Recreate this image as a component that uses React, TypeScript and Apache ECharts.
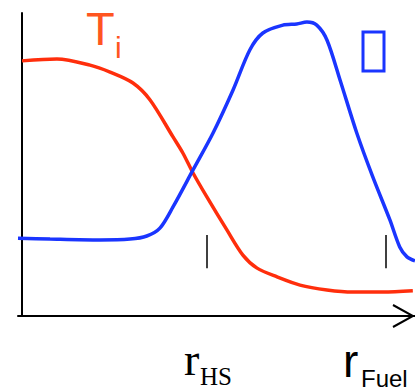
import React, { useEffect, useRef } from "react";
import * as echarts from "echarts";

// radius (r_Fuel = 1) and values (arbitrary units, 0..100)
const tiR = [0, 0.096, 0.187, 0.242, 0.305, 0.352, 0.415, 0.442, 0.47, 0.508, 0.563, 0.607, 0.646, 0.701, 0.764, 0.838, 0.909, 0.992, 1.074];
const tiV = [84.2, 84.8, 82.8, 80.5, 76.9, 71.3, 59.1, 53.8, 47.2, 39.3, 28.4, 20.1, 15.8, 12.9, 10.2, 8.6, 7.9, 7.9, 8.3];
const rhoR = [-0.011, 0.077, 0.214, 0.297, 0.343, 0.379, 0.415, 0.47, 0.525, 0.58, 0.626, 0.662, 0.717, 0.755, 0.783, 0.81, 0.838, 0.874, 0.92, 0.964, 1.011, 1.038, 1.058, 1.08];
const rhoV = [25.7, 25.4, 25.1, 25.4, 26.4, 29.0, 36.0, 48.2, 60.4, 74.6, 87.8, 93.4, 96.0, 96.4, 97.0, 96.0, 91.1, 77.9, 60.4, 45.9, 31.7, 22.8, 19.5, 18.2];
const markR = [0.508, 1.0];
const markY = [15.8, 26.7];

export default function App() {
  const ref = useRef<HTMLDivElement>(null);
  useEffect(() => {
    const chart = echarts.init(ref.current!, null, { renderer: "svg" });
    const red = "#ff2e0c";
    const blue = "#1a35ff";
    chart.setOption({
      animation: false,
      grid: { left: 18, right: 0, top: 13, bottom: 75 },
      xAxis: {
        type: "value",
        min: -0.011,
        max: 1.08,
        axisLine: { show: true, onZero: true, lineStyle: { color: "#000", width: 2 } },
        axisTick: { show: false },
        axisLabel: { show: false },
        splitLine: { show: false },
      },
      yAxis: {
        type: "value",
        min: 0,
        max: 100,
        axisLine: { show: true, onZero: true, lineStyle: { color: "#000", width: 2 } },
        axisTick: { show: false },
        axisLabel: { show: false },
        splitLine: { show: false },
      },
      series: [
        {
          type: "line",
          data: tiR.map((r, i) => [r, tiV[i]]),
          smooth: 0.3,
          symbol: "none",
          lineStyle: { color: red, width: 3.5 },
          z: 3,
        },
        {
          type: "line",
          data: rhoR.map((r, i) => [r, rhoV[i]]),
          smooth: 0.3,
          symbol: "none",
          lineStyle: { color: blue, width: 3.5 },
          z: 4,
          markLine: {
            silent: true,
            symbol: "none",
            label: { show: false },
            lineStyle: { color: "#000", width: 1.5, type: "solid" },
            data: markR.map((r) => [
              { coord: [r, markY[0]] },
              { coord: [r, markY[1]] },
            ]),
          },
        },
      ],
      graphic: [
        {
          type: "polyline",
          shape: { points: [[393, 305], [413, 316], [393, 327]] },
          style: { stroke: "#000", lineWidth: 2, fill: "none" },
        },
        {
          type: "rect",
          shape: { x: 363, y: 32, width: 21, height: 39 },
          style: { stroke: blue, lineWidth: 3, fill: "none" },
        },
        {
          type: "text",
          x: 86,
          y: 28.7,
          style: { text: "T", font: '47px "Liberation Sans", Arial, sans-serif', fill: "#ff5520", verticalAlign: "middle" },
        },
        {
          type: "text",
          x: 115,
          y: 47.6,
          style: { text: "i", font: '30px "Liberation Sans", Arial, sans-serif', fill: "#ff5520", verticalAlign: "middle" },
        },
        {
          type: "text",
          x: 184,
          y: 359.5,
          style: { text: "r", font: '46px "Liberation Serif", "Times New Roman", serif', fill: "#000", verticalAlign: "middle" },
        },
        {
          type: "text",
          x: 200,
          y: 376.6,
          style: { text: "HS", font: '25px "Liberation Serif", "Times New Roman", serif', fill: "#000", verticalAlign: "middle" },
        },
        {
          type: "text",
          x: 343,
          y: 361,
          style: { text: "r", font: '46px "Liberation Sans", Arial, sans-serif', fill: "#000", verticalAlign: "middle" },
        },
        {
          type: "text",
          x: 361,
          y: 378.5,
          style: { text: "Fuel", font: '24px "Liberation Sans", Arial, sans-serif', fill: "#000", verticalAlign: "middle" },
        },
      ],
    });
    return () => chart.dispose();
  }, []);
  return <div ref={ref} style={{ width: 415, height: 391, position: "absolute", left: 0, top: 0 }} />;
}
